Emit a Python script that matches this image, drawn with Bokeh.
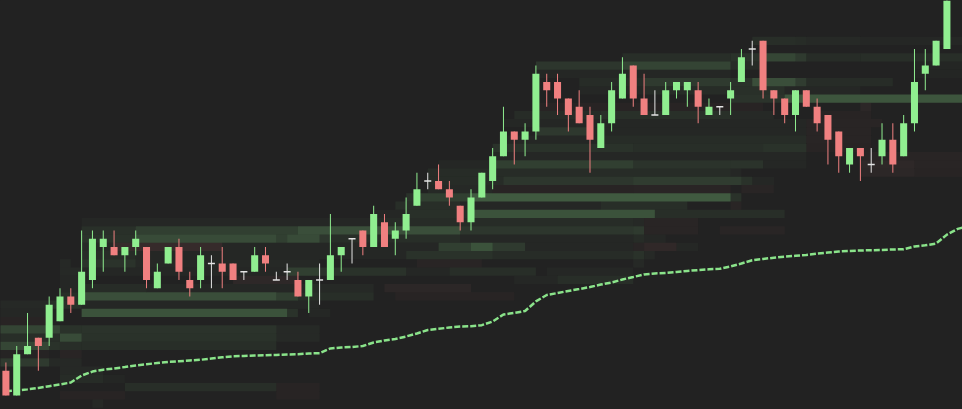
from bokeh.plotting import figure
from bokeh.models import Range1d, ColumnDataSource
from bokeh.embed import file_html
from bokeh.resources import INLINE

# ---- candle data (price in tick levels) ----
opens = [3,0,5,7,7,9,12,11,14,18, 18,17,18,18,13,16,18,14,14,16,
         16,16,15,15,17,14,15,14,12,14, 14,17,19,20,18,21,19,20,23,26,
         26,25,23,21,24,26,29,32,31,32, 38,38,36,35,34,30,33,36,40,36,
         34,34,37,37,37,34,35,36,38,42, 43,37,36,34,37,35,34,32,28,30,
         28,29,31,29,33,39,40,42]
closes = [0,5,6,6,11,12,11,15,19,19, 17,18,19,14,15,18,15,13,17,16,
          15,14,15,17,16,14,15,12,14,14, 17,18,19,18,22,18,20,22,25,26,
          25,24,21,24,27,29,32,31,32,39, 37,36,34,33,31,33,37,39,36,34,
          34,37,38,38,35,35,35,37,41,42, 37,36,34,37,35,33,31,29,30,29,
          28,31,28,33,38,40,43,49]
highs = [4,6,10,7,12,13,13,20,20,20, 20,18,20,18,16,18,19,15,18,17,
         18,16,15,18,18,15,16,15,14,16, 22,18,19,20,23,22,21,24,27,27,
         28,26,23,25,27,30,35,32,33,40, 39,39,36,37,35,34,38,41,40,39,
         37,38,38,38,38,36,35,38,42,43, 43,37,36,37,37,36,34,32,30,30,
         30,33,33,34,42,42,43,50]
lows = [0,0,5,3,6,9,10,11,13,15, 17,15,17,13,13,16,14,12,13,13,
        13,14,14,15,15,14,14,12,10,11, 14,15,16,17,18,18,17,19,23,25,
        25,23,20,20,24,25,29,28,29,31, 35,34,32,33,27,30,32,36,35,34,
        34,34,36,35,33,34,34,34,38,40, 36,34,33,32,35,32,28,27,27,26,
        27,28,27,29,32,37,40,42]

# ---- dashed average line ----
avg_line = [0.52,0.6,0.74,0.91,1.13,1.33,1.58,2.42,2.9,3.13,
            3.27,3.45,3.64,3.78,3.94,4.07,4.15,4.24,4.33,4.48,
            4.63,4.75,4.79,4.85,4.88,4.92,4.97,5.0,5.09,5.13,
            5.7,5.82,5.88,6.0,6.42,6.67,6.85,7.15,7.52,7.94,
            8.08,8.24,8.36,8.4,8.52,8.97,9.82,10.0,10.24,11.4,
            12.18,12.42,12.67,12.9,13.15,13.45,13.7,14.06,14.36,14.67,
            14.79,14.85,14.97,15.1,15.2,15.3,15.36,15.64,16.0,16.4,
            16.55,16.7,16.82,16.93,17.04,17.2,17.33,17.45,17.52,17.58,
            17.61,17.65,17.7,17.73,18.06,18.2,18.42,19.5,20.2,20.55]

# ---- heatmap runs: (level, from candle, to candle, intensity; negative = sell side) ----
heat_runs = [
    (-1, 8, 9, 0.04),
    (0, 5, 11, -0.03), (0, 25, 29, -0.03),
    (1, 11, 25, 0.06), (1, 25, 29, -0.03),
    (2, 5, 9, 0.05), (2, 9, 11, 0.02),
    (3, 5, 9, 0.04),
    (4, -1, 4, 0.12), (4, 4, 7, 0.04),
    (5, -1, 4, -0.02), (5, 5, 7, -0.04),
    (6, -1, 4, 0.18), (6, 4, 5, 0.08), (6, 5, 7, 0.06), (6, 7, 25, 0.06),
    (7, -1, 5, 0.06), (7, 5, 7, 0.2), (7, 7, 25, 0.08), (7, 25, 29, 0.04),
    (8, -1, 5, 0.17), (8, 5, 7, 0.08), (8, 7, 25, 0.09), (8, 25, 29, 0.04),
    (9, -1, 4, -0.03),
    (10, -1, 4, 0.03), (10, 7, 26, 0.24), (10, 26, 27, 0.08), (10, 28, 30, 0.03),
    (11, -1, 4, 0.04), (11, 4, 7, 0.07), (11, 7, 29, 0.03),
    (12, 5, 7, 0.06), (12, 7, 25, 0.22), (12, 25, 27, 0.15), (12, 27, 28, 0.06),
    (12, 28, 34, 0.06), (12, 36, 47, -0.03),
    (13, 5, 7, 0.03), (13, 7, 13, 0.05), (13, 13, 28, 0.03), (13, 28, 34, 0.04), (13, 35, 43, -0.05),
    (14, 5, 7, 0.03), (14, 21, 27, -0.06), (14, 47, 51, 0.03), (14, 51, 58, 0.06),
    (15, 5, 7, 0.04), (15, 7, 26, 0.03), (15, 26, 29, 0.15), (15, 29, 37, 0.08),
    (15, 37, 41, 0.03), (15, 41, 49, 0.06), (15, 50, 58, 0.03),
    (16, 5, 6, 0.04), (16, 7, 12, 0.09), (16, 12, 29, 0.04), (16, 38, 44, -0.04), (16, 58, 59, 0.04),
    (17, 7, 12, 0.05), (17, 12, 37, 0.03), (17, 37, 45, 0.08), (17, 45, 58, 0.05),
    (17, 58, 59, 0.08), (17, 59, 60, 0.04),
    (18, 7, 10, 0.04), (18, 10, 20, -0.1), (18, 20, 40, 0.03), (18, 40, 43, 0.14),
    (18, 43, 45, 0.24), (18, 45, 48, 0.12), (18, 48, 58, 0.03), (18, 58, 59, -0.04),
    (18, 59, 62, -0.07), (18, 62, 64, 0.03),
    (19, 7, 12, 0.08), (19, 12, 25, 0.2), (19, 25, 26, 0.14), (19, 26, 29, 0.2),
    (19, 29, 30, 0.1), (19, 30, 42, 0.06), (19, 42, 58, 0.03), (19, 58, 59, 0.05), (19, 59, 61, 0.03),
    (20, 7, 12, 0.07), (20, 12, 27, 0.15), (20, 27, 42, 0.22), (20, 42, 58, 0.1),
    (20, 58, 59, 0.12), (20, 59, 64, -0.04), (20, 66, 72, -0.04),
    (21, 7, 34, 0.03), (21, 34, 58, 0.05), (21, 58, 59, 0.04), (21, 59, 64, -0.04),
    (22, 34, 37, 0.03), (22, 37, 43, 0.07), (22, 43, 60, 0.24), (22, 60, 72, 0.06),
    (23, 36, 42, 0.06), (23, 42, 55, 0.03), (23, 55, 63, 0.06), (23, 67, 68, -0.04),
    (24, 37, 38, 0.08), (24, 38, 43, 0.14), (24, 43, 67, 0.28), (24, 67, 68, 0.08),
    (25, 39, 45, 0.04), (25, 45, 58, -0.03), (25, 58, 67, -0.04), (25, 68, 71, -0.04),
    (26, 39, 46, 0.05), (26, 46, 58, 0.1), (26, 58, 68, 0.13), (26, 68, 69, 0.08), (26, 69, 71, 0.03),
    (27, 39, 67, 0.05), (27, 67, 68, 0.03), (27, 79, 84, -0.05), (27, 84, 89, -0.03),
    (28, 40, 45, 0.03), (28, 45, 58, 0.14), (28, 58, 67, 0.09), (28, 67, 70, 0.09),
    (28, 70, 74, 0.03), (28, 79, 84, -0.06), (28, 84, 89, -0.04),
    (29, 45, 74, 0.03), (29, 79, 89, -0.04),
    (30, 45, 58, 0.08), (30, 58, 70, 0.06), (30, 70, 74, 0.08), (30, 74, 80, -0.03),
    (31, 46, 55, 0.03), (31, 55, 74, 0.05), (31, 74, 80, -0.04),
    (32, 49, 54, 0.11), (32, 54, 74, 0.03), (32, 74, 80, -0.04),
    (33, 46, 74, 0.03), (33, 74, 81, -0.04),
    (34, 47, 55, 0.05), (34, 55, 67, 0.07), (34, 67, 71, 0.04), (34, 75, 80, -0.03),
    (35, 49, 70, -0.03), (35, 79, 80, -0.05),
    (36, 67, 72, 0.09), (36, 72, 89, 0.25),
    (37, 53, 59, 0.03), (37, 59, 67, 0.05), (37, 67, 72, 0.07), (37, 72, 79, 0.03),
    (38, 53, 59, 0.05), (38, 59, 67, 0.12), (38, 67, 69, 0.08), (38, 69, 73, 0.22),
    (38, 73, 74, 0.13), (38, 74, 82, 0.05),
    (39, 49, 67, 0.03), (39, 84, 89, 0.02),
    (40, 49, 57, 0.1), (40, 57, 67, 0.17), (40, 67, 70, 0.05), (40, 84, 89, 0.02),
    (41, 57, 67, 0.06), (41, 67, 70, 0.08), (41, 70, 73, 0.18), (41, 73, 74, 0.12),
    (41, 74, 79, 0.05), (41, 79, 89, 0.06),
    (43, 69, 73, 0.06), (43, 73, 74, 0.05), (43, 74, 79, 0.04), (43, 79, 89, 0.03),
]

BG = "#222222"
UP = "#90ee90"
DOWN = "#f08080"
FLAT = "#e4e4e4"
BODY_W = 0.65

p = figure(width=962, height=409, output_backend="svg", toolbar_location=None,
           x_range=Range1d(-0.5, 88.44), y_range=Range1d(-1.7, 47.88),
           x_axis_type=None, y_axis_type=None, min_border=0,
           background_fill_color=BG, border_fill_color=BG)
p.grid.visible = False
p.outline_line_color = None

# heatmap
hm = ColumnDataSource(dict(
    left=[r[1] for r in heat_runs],
    right=[r[2] for r in heat_runs],
    bottom=[r[0] - 0.5 for r in heat_runs],
    top=[r[0] + 0.5 for r in heat_runs],
    color=[UP if r[3] > 0 else DOWN for r in heat_runs],
    alpha=[abs(r[3]) for r in heat_runs],
))
p.quad(left="left", right="right", bottom="bottom", top="top", source=hm,
       fill_color="color", fill_alpha="alpha", line_color=None)

# dashed line
p.line(x=list(range(len(avg_line))), y=avg_line, line_color=UP, line_width=2.5,
       line_dash="6 2", line_alpha=0.95)

# candles
idx = list(range(len(opens)))
colors = [UP if c > o else (DOWN if c < o else FLAT) for o, c in zip(opens, closes)]
wick = ColumnDataSource(dict(x=idx, lo=lows, hi=highs, color=colors))
p.segment(x0="x", y0="lo", x1="x", y1="hi", source=wick, line_color="color", line_width=1)

bi = [i for i in idx if opens[i] != closes[i]]
body = ColumnDataSource(dict(
    x=bi,
    top=[max(opens[i], closes[i]) for i in bi],
    bottom=[min(opens[i], closes[i]) for i in bi],
    color=[colors[i] for i in bi],
))
p.vbar(x="x", width=BODY_W, top="top", bottom="bottom", source=body,
       fill_color="color", line_color=None)

di = [i for i in idx if opens[i] == closes[i]]
doji = ColumnDataSource(dict(
    x0=[i - BODY_W / 2 for i in di], x1=[i + BODY_W / 2 for i in di],
    y=[opens[i] for i in di],
))
p.segment(x0="x0", y0="y", x1="x1", y1="y", source=doji, line_color=FLAT, line_width=1.5)

html = file_html(p, INLINE)
html = html.replace("</head>",
    "<style>html,body{margin:0;padding:0;background:#222222;overflow:hidden;}</style></head>", 1)
open("out.html", "w").write(html)
